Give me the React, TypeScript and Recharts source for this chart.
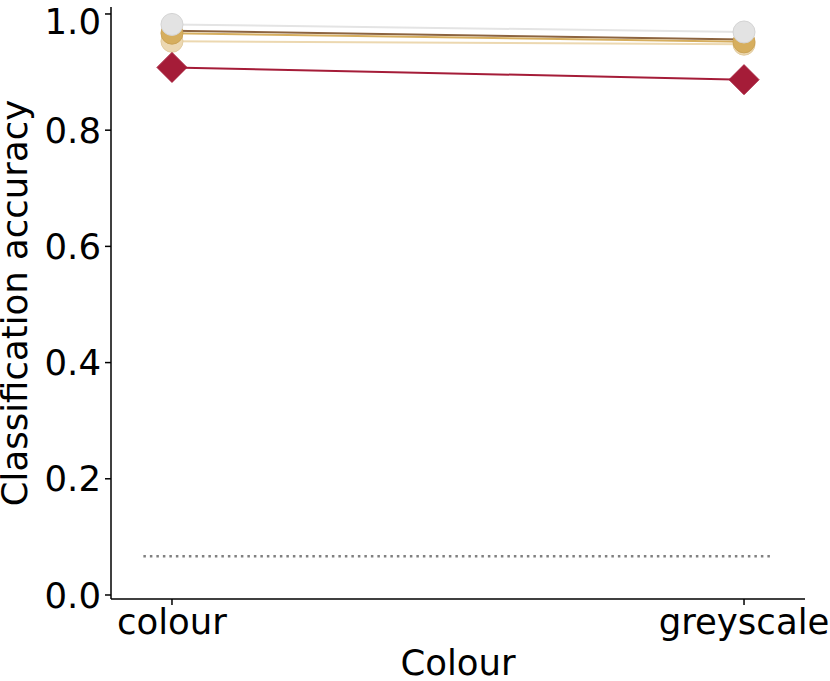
import { LineChart, Line, XAxis, YAxis, ReferenceLine } from 'recharts';

const categories = ['colour', 'greyscale'];
const greyAcc = [0.982, 0.969];
const brownAcc = [0.971, 0.956];
const goldAcc = [0.967, 0.952];
const tanAcc = [0.953, 0.948];
const redAcc = [0.908, 0.887];
const chanceLevel = 0.0667;
const yTicks = [0, 0.2, 0.4, 0.6, 0.8, 1.0];

const data = categories.map((c, i) => ({
  x: i,
  name: c,
  grey: greyAcc[i],
  brown: brownAcc[i],
  gold: goldAcc[i],
  tan: tanAcc[i],
  red: redAcc[i],
}));

const font = 'DejaVu Sans, sans-serif';
const fs = 35.5;

const circleDot = (fill: string, stroke: string) => (props: any) => (
  <circle key={props.key} cx={props.cx} cy={props.cy} r={11} fill={fill} stroke={stroke} strokeWidth={1} />
);

const diamondDot = (props: any) => {
  const { cx, cy, key } = props;
  const s = 15;
  return (
    <path
      key={key}
      d={`M${cx},${cy - s}L${cx + s},${cy}L${cx},${cy + s}L${cx - s},${cy}Z`}
      fill="#a51c38"
      stroke="#a51c38"
    />
  );
};

export default function App() {
  return (
    <div style={{ position: 'absolute', left: 0, top: 0, background: '#fff' }}>
      <LineChart width={830} height={681} data={data} margin={{ top: 7, right: 25, left: 0, bottom: 0 }}>
        <XAxis
          type="number"
          dataKey="x"
          domain={[-0.1066, 1.1066]}
          ticks={[0, 1]}
          tickFormatter={(v: number) => categories[v]}
          axisLine={{ stroke: '#000', strokeWidth: 1.5 }}
          tickLine={{ stroke: '#000', strokeWidth: 1.5 }}
          tick={{ fill: '#000', fontSize: fs, fontFamily: font }}
          tickSize={6}
          tickMargin={4}
          height={82}
          allowDataOverflow
          label={{ value: 'Colour', position: 'insideBottom', offset: 6, fill: '#000', fontSize: fs, fontFamily: font }}
        />
        <YAxis
          type="number"
          domain={[-0.0069, 1.012]}
          ticks={yTicks}
          tickFormatter={(v: number) => v.toFixed(1)}
          axisLine={{ stroke: '#000', strokeWidth: 1.5 }}
          tickLine={{ stroke: '#000', strokeWidth: 1.5 }}
          tick={{ fill: '#000', fontSize: fs, fontFamily: font }}
          tickSize={6}
          tickMargin={4}
          width={111}
          allowDataOverflow
          label={{
            value: 'Classification accuracy',
            angle: -90,
            position: 'insideLeft',
            offset: 14,
            fill: '#000',
            fontSize: fs,
            fontFamily: font,
            style: { textAnchor: 'middle' },
          }}
        />
        <ReferenceLine
          segment={[{ x: -0.05, y: chanceLevel }, { x: 1.05, y: chanceLevel }]}
          stroke="#808080"
          strokeWidth={2.5}
          strokeDasharray="2.5 4"
        />
        <Line dataKey="tan" stroke="#ecd8b0" strokeWidth={2} dot={circleDot('#ecd8b2', '#e2cca0')} isAnimationActive={false} />
        <Line dataKey="brown" stroke="#8c6440" strokeWidth={2} dot={false} isAnimationActive={false} />
        <Line dataKey="gold" stroke="#d6ae5e" strokeWidth={2} dot={circleDot('#d6ae5e', '#cca456')} isAnimationActive={false} />
        <Line dataKey="grey" stroke="#e4e4e4" strokeWidth={2} dot={circleDot('#e3e3e3', '#d4d4d4')} isAnimationActive={false} />
        <Line dataKey="red" stroke="#a51c38" strokeWidth={2} dot={diamondDot} isAnimationActive={false} />
      </LineChart>
    </div>
  );
}
